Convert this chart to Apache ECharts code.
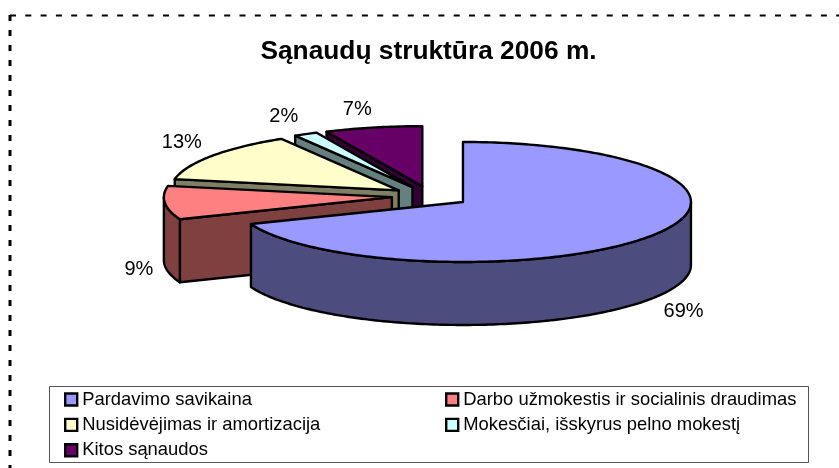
<!DOCTYPE html>
<html>
<head>
<meta charset="utf-8">
<style>
    html, body { margin: 0; padding: 0; background: #fff; }
    #chart { width: 839px; height: 468px; }
</style>
</head>
<body>
<div id="chart"></div>
<script src="https://cdn.jsdelivr.net/npm/echarts@6/dist/echarts.min.js"></script>
<script>
var categories = ['Pardavimo savikaina', 'Darbo užmokestis ir socialinis draudimas', 'Nusidėvėjimas ir amortizacija', 'Mokesčiai, išskyrus pelno mokestį', 'Kitos sąnaudos'];
var shares = [69, 9, 13.4, 1.7, 6.9];
var topColors = ['#9999FF', '#FF8080', '#FFFFCC', '#CCFFFF', '#660066'];
var sideColors = ['#4C4C7F', '#7F4040', '#7F7F66', '#667F7F', '#330033'];
// label shift from the rim point of each slice
var labelShift = [[32, 13], [-26, 4], [-30, -13], [-22, -18], [-16, -18]];

var fontName = '"Liberation Sans", Arial, sans-serif';

// pie projection
var centerX = 430.7, centerY = 196.2, radiusX = 228, radiusY = 60, depth = 63, explode = 39;

function rad(a) {
    return a * Math.PI / 180;
}

function sliceRange(i) {
    var total = 0, before = 0;
    for (var j = 0; j < shares.length; j++) {
        total += shares[j];
        if (j < i) before += shares[j];
    }
    return [before / total * 360, (before + shares[i]) / total * 360];
}

function rim(apex, angle, down) {
    return [apex[0] + radiusX * Math.sin(rad(angle)), apex[1] - radiusY * Math.cos(rad(angle)) + (down || 0)];
}

function renderSlice(i) {
    var range = sliceRange(i), start = range[0], end = range[1];
    var mid = (start + end) / 2;
    var apex = [
        centerX + explode * Math.sin(rad(mid)),
        centerY - explode * radiusY / radiusX * Math.cos(rad(mid))
    ];
    var children = [];

    function face(points, fill) {
        children.push({
            type: 'polygon',
            shape: {points: points},
            style: {fill: fill, stroke: '#000', lineWidth: 2.4, lineJoin: 'round'}
        });
    }

    // cut faces towards the viewer
    if (Math.sin(rad(start)) < -1e-6) {
        var a = rim(apex, start), b = rim(apex, start, depth);
        face([[apex[0], apex[1]], a, b, [apex[0], apex[1] + depth]], sideColors[i]);
    }
    if (Math.sin(rad(end)) > 1e-6) {
        var c = rim(apex, end), d = rim(apex, end, depth);
        face([[apex[0], apex[1]], c, d, [apex[0], apex[1] + depth]], sideColors[i]);
    }

    // outer wall, front half only
    var from = Math.max(start, 90), to = Math.min(end, 270);
    if (to > from) {
        var wall = [], t;
        for (t = from; t < to; t += 1) wall.push(rim(apex, t));
        wall.push(rim(apex, to));
        wall.push(rim(apex, to, depth));
        for (t = to; t > from; t -= 1) wall.push(rim(apex, t, depth));
        wall.push(rim(apex, from, depth));
        face(wall, sideColors[i]);
    }

    // top
    var top = [[apex[0], apex[1]]];
    for (var k = start; k < end; k += 1) top.push(rim(apex, k));
    top.push(rim(apex, end));
    face(top, topColors[i]);

    // percent label
    var front = Math.cos(rad(mid)) < 0;
    var anchor = rim(apex, mid, front ? depth : 0);
    children.push({
        type: 'text',
        style: {
            text: Math.round(shares[i]) + '%',
            x: anchor[0] + labelShift[i][0],
            y: anchor[1] + labelShift[i][1],
            fill: '#000',
            font: '20px ' + fontName,
            align: 'center',
            verticalAlign: 'middle'
        }
    });
    return {type: 'group', children: children};
}

function legendItems(list) {
    var items = [];
    for (var n = 0; n < list.length; n++) {
        items.push({
            name: categories[list[n]],
            icon: 'rect',
            itemStyle: {color: topColors[list[n]], borderColor: '#000', borderWidth: 2.4}
        });
    }
    return items;
}

function makeLegend(left, list) {
    return {
        orient: 'vertical',
        left: left,
        top: 390.5,
        padding: 0,
        itemWidth: 12,
        itemHeight: 12,
        itemGap: 7.4,
        selectedMode: false,
        textStyle: {color: '#000', fontFamily: fontName, fontSize: 18.4},
        data: legendItems(list)
    };
}

var series = [];
for (var s = shares.length - 1; s >= 0; s--) {
    (function (i) {
        series.push({
            name: categories[i],
            type: 'custom',
            coordinateSystem: 'none',
            silent: true,
            data: [shares[i]],
            renderItem: function () {
                return renderSlice(i);
            }
        });
    })(s);
}

var chart = echarts.init(document.getElementById('chart'));
chart.setOption({
    animation: false,
    backgroundColor: '#fff',
    title: {
        text: 'Sąnaudų struktūra 2006 m.',
        left: 423.5,
        top: 34,
        textAlign: 'center',
        textStyle: {color: '#000', fontFamily: fontName, fontSize: 26.3, fontWeight: 'bold'}
    },
    legend: [makeLegend(64, [0, 2, 4]), makeLegend(445, [1, 3])],
    graphic: [
        {
            type: 'rect',
            silent: true,
            shape: {x: 49.5, y: 386.5, width: 759, height: 76},
            style: {fill: 'none', stroke: '#555', lineWidth: 1}
        },
        {
            type: 'line',
            silent: true,
            shape: {x1: 10, y1: 15.5, x2: 839, y2: 15.5},
            style: {stroke: '#000', lineWidth: 2, lineDash: [6, 9.3]}
        },
        {
            type: 'line',
            silent: true,
            shape: {x1: 10, y1: 15, x2: 10, y2: 468},
            style: {stroke: '#000', lineWidth: 3, lineDash: [6, 9]}
        }
    ],
    series: series
});
</script>
</body>
</html>
